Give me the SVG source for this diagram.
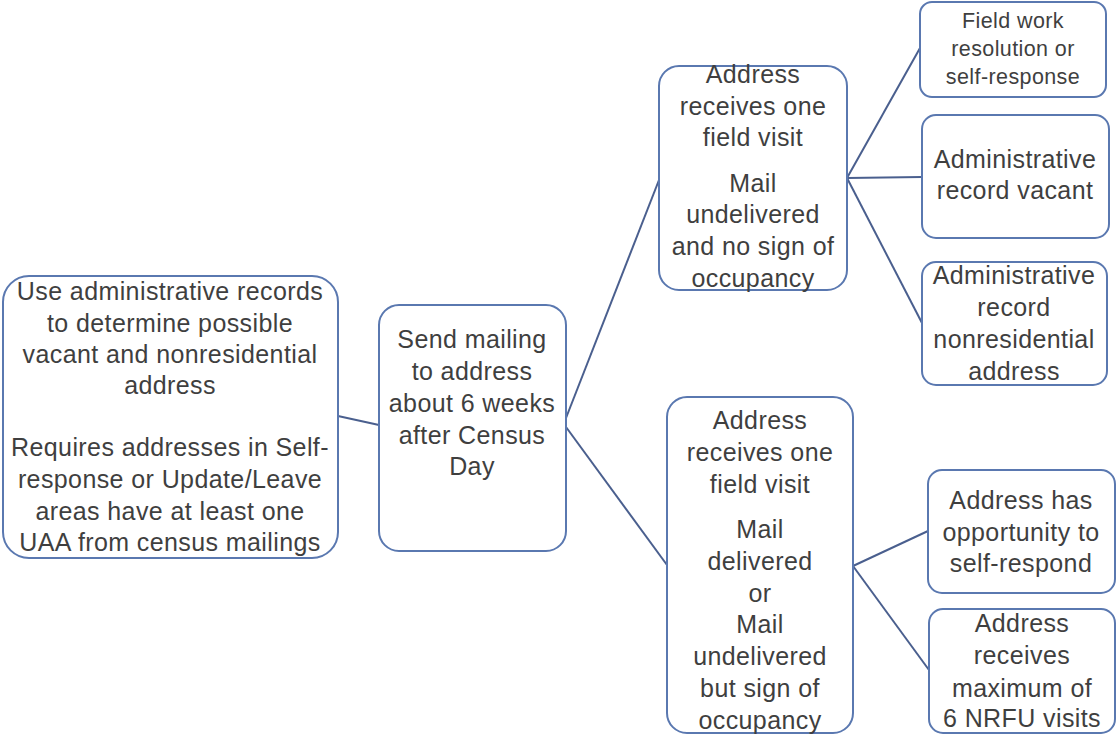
<svg xmlns="http://www.w3.org/2000/svg" width="1116" height="736" viewBox="0 0 1116 736">
<style>
.box{fill:#ffffff;stroke:#5a78b0;stroke-width:2}
.t{font-family:"Liberation Sans",Arial,sans-serif;font-size:25px;letter-spacing:0.4px;fill:#3f3f3f;text-anchor:middle}
.s{font-size:21.5px}
.c{stroke:#4a5f8e;stroke-width:2;fill:none}
</style>
<rect width="1116" height="736" fill="#ffffff"/>
<g id="connectors">
<line class="c" x1="338" y1="416" x2="379" y2="425"/>
<line class="c" x1="566" y1="418" x2="659" y2="180"/>
<line class="c" x1="566" y1="427" x2="667" y2="565"/>
<line class="c" x1="847" y1="178" x2="920" y2="48"/>
<line class="c" x1="847" y1="178" x2="922" y2="177"/>
<line class="c" x1="847" y1="178" x2="922" y2="323"/>
<line class="c" x1="853" y1="566" x2="928" y2="531"/>
<line class="c" x1="853" y1="566" x2="929" y2="670"/>
</g>
<g id="n1">
<rect class="box" x="3" y="276" width="335" height="282" rx="26"/>
<text class="t" x="170" y="300">Use administrative records</text>
<text class="t" x="170" y="332">to determine possible</text>
<text class="t" x="170" y="363">vacant and nonresidential</text>
<text class="t" x="170" y="394">address</text>
<text class="t" x="170" y="456">Requires addresses in Self-</text>
<text class="t" x="170" y="488">response or Update/Leave</text>
<text class="t" x="170" y="520">areas have at least one</text>
<text class="t" x="170" y="551">UAA from census mailings</text>
</g>
<g id="n2">
<rect class="box" x="379" y="305" width="187" height="246" rx="20"/>
<text class="t" x="472" y="348">Send mailing</text>
<text class="t" x="472" y="380">to address</text>
<text class="t" x="472" y="412">about 6 weeks</text>
<text class="t" x="472" y="444">after Census</text>
<text class="t" x="472" y="475">Day</text>
</g>
<g id="n3">
<rect class="box" x="659" y="66" width="188" height="224" rx="20"/>
<text class="t" x="753" y="83">Address</text>
<text class="t" x="753" y="115">receives one</text>
<text class="t" x="753" y="146">field visit</text>
<text class="t" x="753" y="192">Mail</text>
<text class="t" x="753" y="223">undelivered</text>
<text class="t" x="753" y="255">and no sign of</text>
<text class="t" x="753" y="287">occupancy</text>
</g>
<g id="n4">
<rect class="box" x="667" y="397" width="186" height="336" rx="20"/>
<text class="t" x="760" y="429">Address</text>
<text class="t" x="760" y="461">receives one</text>
<text class="t" x="760" y="493">field visit</text>
<text class="t" x="760" y="538">Mail</text>
<text class="t" x="760" y="570">delivered</text>
<text class="t" x="760" y="602">or</text>
<text class="t" x="760" y="633">Mail</text>
<text class="t" x="760" y="665">undelivered</text>
<text class="t" x="760" y="697">but sign of</text>
<text class="t" x="760" y="729">occupancy</text>
</g>
<g id="n5">
<rect class="box" x="920" y="2" width="186" height="95" rx="12"/>
<text class="t s" x="1013" y="28">Field work</text>
<text class="t s" x="1013" y="56">resolution or</text>
<text class="t s" x="1013" y="84">self-response</text>
</g>
<g id="n6">
<rect class="box" x="922" y="115" width="187" height="123" rx="14"/>
<text class="t" x="1015" y="168">Administrative</text>
<text class="t" x="1015" y="199">record vacant</text>
</g>
<g id="n7">
<rect class="box" x="922" y="262" width="185" height="123" rx="14"/>
<text class="t" x="1014" y="284">Administrative</text>
<text class="t" x="1014" y="316">record</text>
<text class="t" x="1014" y="348">nonresidential</text>
<text class="t" x="1014" y="380">address</text>
</g>
<g id="n8">
<rect class="box" x="928" y="470" width="187" height="123" rx="14"/>
<text class="t" x="1021" y="509">Address has</text>
<text class="t" x="1021" y="541">opportunity to</text>
<text class="t" x="1021" y="572">self-respond</text>
</g>
<g id="n9">
<rect class="box" x="929" y="609" width="186" height="124" rx="14"/>
<text class="t" x="1022" y="632">Address</text>
<text class="t" x="1022" y="664">receives</text>
<text class="t" x="1022" y="697">maximum of</text>
<text class="t" x="1022" y="727">6 NRFU visits</text>
</g>
</svg>
